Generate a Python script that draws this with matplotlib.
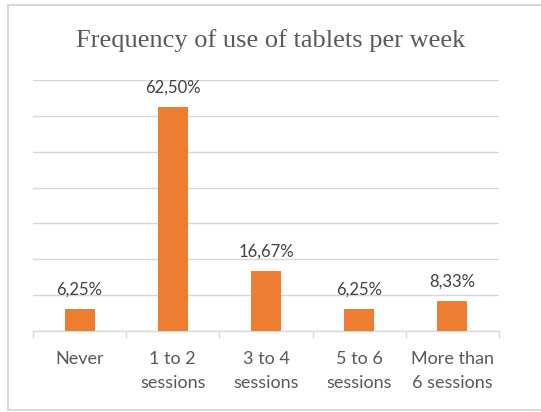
import matplotlib.pyplot as plt
from matplotlib.patches import Rectangle

categories = ["Never", "1 to 2\nsessions", "3 to 4\nsessions", "5 to 6\nsessions", "More than\n6 sessions"]
values = [6.25, 62.50, 16.67, 6.25, 8.33]
value_labels = ["6,25%", "62,50%", "16,67%", "6,25%", "8,33%"]
title = "Frequency of use of tablets per week"

W, H = 541, 412
fig = plt.figure(figsize=(W / 100, H / 100), dpi=100)
fig.patch.set_facecolor("white")

# outer chart frame (runs past the right edge)
frame = Rectangle((8 / W, 2 / H), 545 / W, 405 / H,
                  transform=fig.transFigure, facecolor="white",
                  edgecolor="#d9d9d9", linewidth=1.5, zorder=-5)
fig.patches.append(frame)

ax = fig.add_axes([33 / W, (H - 331) / H, (499 - 33) / W, (331 - 80) / H])
ax.set_zorder(2)
ax.set_facecolor("none")
x = list(range(len(categories)))
ax.bar(x, values, width=0.32, color="#ED7D31", zorder=3)
ax.set_xlim(-0.5, len(categories) - 0.5)
ax.set_ylim(0, 70)
ax.set_yticks(range(0, 71, 10))
ax.yaxis.grid(True, color="#d9d9d9", linewidth=1.0, zorder=0)
ax.tick_params(axis="y", length=0, labelleft=False)
for s in ["top", "right", "left"]:
    ax.spines[s].set_visible(False)
ax.spines["bottom"].set_color("#d9d9d9")
ax.spines["bottom"].set_linewidth(1.0)

ax.set_xticks([i - 0.5 for i in range(len(categories) + 1)], minor=False)
ax.set_xticklabels([])
ax.tick_params(axis="x", length=5, color="#d9d9d9", width=1.0)
for i, c in enumerate(categories):
    ax.text(i, -5.7, c, ha="center", va="top", fontsize=13, color="#595959",
            family="Lato", linespacing=1.55)

for i, (v, lab) in enumerate(zip(values, value_labels)):
    ax.annotate(lab, (i, v), xytext=(0, 8), textcoords="offset points",
                ha="center", va="bottom", fontsize=12, color="#404040", family="Lato")

fig.text(0.5, (H - 41) / H, title, ha="center", va="center", fontsize=19,
         color="#595959", family="Liberation Serif")

fig.savefig("out.png", dpi=100)
